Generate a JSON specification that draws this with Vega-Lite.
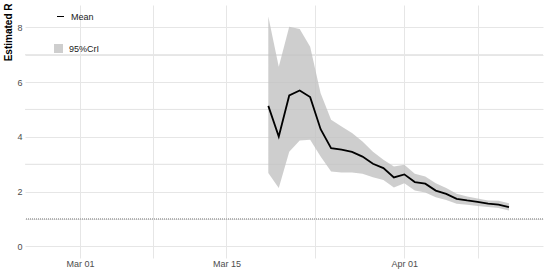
{
  "$schema": "https://vega.github.io/schema/vega-lite/v6.json",
  "width": 518,
  "height": 253,
  "autosize": {"type": "none"},
  "padding": {"left": 25, "top": 5, "right": 7, "bottom": 17},
  "background": "white",
  "config": {
    "view": {"stroke": null},
    "font": "Liberation Sans",
    "axis": {
      "domain": false,
      "ticks": false,
      "labelColor": "#4d4d4d",
      "labelFontSize": 9,
      "labelFont": "Liberation Sans",
      "gridColor": "#e6e6e6",
      "gridWidth": 1
    },
    "legend": {"padding": 0, "labelFont": "Liberation Sans"}
  },
  "data": {
    "values": [
      {"date": "2020-03-19", "mean": 5.13, "lower": 2.68, "upper": 8.39},
      {"date": "2020-03-20", "mean": 4.01, "lower": 2.13, "upper": 6.56},
      {"date": "2020-03-21", "mean": 5.51, "lower": 3.46, "upper": 8.02},
      {"date": "2020-03-22", "mean": 5.69, "lower": 3.87, "upper": 7.93},
      {"date": "2020-03-23", "mean": 5.45, "lower": 3.89, "upper": 7.29},
      {"date": "2020-03-24", "mean": 4.28, "lower": 3.28, "upper": 5.59},
      {"date": "2020-03-25", "mean": 3.59, "lower": 2.74, "upper": 4.62},
      {"date": "2020-03-26", "mean": 3.53, "lower": 2.70, "upper": 4.38},
      {"date": "2020-03-27", "mean": 3.45, "lower": 2.70, "upper": 4.14},
      {"date": "2020-03-28", "mean": 3.28, "lower": 2.65, "upper": 3.83},
      {"date": "2020-03-29", "mean": 3.02, "lower": 2.53, "upper": 3.46},
      {"date": "2020-03-30", "mean": 2.86, "lower": 2.43, "upper": 3.16},
      {"date": "2020-03-31", "mean": 2.52, "lower": 2.15, "upper": 2.92},
      {"date": "2020-04-01", "mean": 2.63, "lower": 2.31, "upper": 2.98},
      {"date": "2020-04-02", "mean": 2.35, "lower": 2.04, "upper": 2.65},
      {"date": "2020-04-03", "mean": 2.29, "lower": 1.97, "upper": 2.55},
      {"date": "2020-04-04", "mean": 2.04, "lower": 1.80, "upper": 2.31},
      {"date": "2020-04-05", "mean": 1.92, "lower": 1.70, "upper": 2.13},
      {"date": "2020-04-06", "mean": 1.74, "lower": 1.56, "upper": 1.92},
      {"date": "2020-04-07", "mean": 1.68, "lower": 1.52, "upper": 1.82},
      {"date": "2020-04-08", "mean": 1.63, "lower": 1.48, "upper": 1.75},
      {"date": "2020-04-09", "mean": 1.56, "lower": 1.44, "upper": 1.68},
      {"date": "2020-04-10", "mean": 1.53, "lower": 1.40, "upper": 1.67},
      {"date": "2020-04-11", "mean": 1.44, "lower": 1.31, "upper": 1.58}
    ]
  },
  "encoding": {
    "x": {
      "field": "date",
      "type": "temporal",
      "scale": {
        "type": "utc",
        "nice": false,
        "domain": [
          {"year": 2020, "month": 2, "date": 24, "hours": 18, "utc": true},
          {"year": 2020, "month": 4, "date": 14, "hours": 6, "utc": true}
        ]
      },
      "axis": {
        "title": null,
        "format": "%b %d",
        "labelPadding": 1,
        "labelOverlap": false,
        "values": [
          {"year": 2020, "month": 3, "date": 1, "utc": true},
          {"year": 2020, "month": 3, "date": 8, "utc": true},
          {"year": 2020, "month": 3, "date": 15, "utc": true},
          {"year": 2020, "month": 3, "date": 23, "hours": 12, "utc": true},
          {"year": 2020, "month": 4, "date": 1, "utc": true},
          {"year": 2020, "month": 4, "date": 8, "utc": true}
        ],
        "labelExpr": "(utcdate(datum.value) == 1 || utcdate(datum.value) == 15) ? datum.label : ''"
      }
    }
  },
  "layer": [
    {
      "data": {"values": [{"level": 3}, {"level": 5}, {"level": 7}]},
      "mark": {"type": "rule", "color": "#e6e6e6", "strokeWidth": 1},
      "encoding": {
        "y": {"field": "level", "type": "quantitative", "title": "Estimated R"},
        "x": null
      }
    },
    {
      "mark": {"type": "area", "opacity": 0.8},
      "encoding": {
        "y": {
          "field": "lower",
          "type": "quantitative",
          "scale": {"domain": [-0.42, 8.81], "nice": false, "zero": false},
          "axis": {
            "title": "Estimated R",
            "titleFontWeight": "bold",
            "titleFontSize": 10,
            "titleColor": "black",
            "titleAngle": -90,
            "titleX": -17,
            "titleY": -2,
            "titleAlign": "right",
            "titleBaseline": "middle",
            "labelPadding": 3,
            "labelOverlap": false,
            "labelExpr": "datum.value % 2 === 0 ? datum.label : ''"
          }
        },
        "y2": {"field": "upper"},
        "fill": {
          "datum": "95%CrI",
          "scale": {"range": ["#c2c2c2"]},
          "legend": {
            "title": null,
            "orient": "none",
            "legendX": 29,
            "legendY": 39,
            "symbolType": "square",
            "symbolSize": 81,
            "symbolOpacity": 0.8,
            "symbolStrokeWidth": 0,
            "labelFontSize": 9,
            "labelColor": "#1a1a1a",
            "labelOffset": 6
          }
        }
      }
    },
    {
      "mark": {"type": "rule", "color": "#b3b3b3", "strokeWidth": 0.8, "strokeDash": [1, 1]},
      "encoding": {
        "y": {"datum": 1, "type": "quantitative"},
        "x": null
      }
    },
    {
      "mark": {"type": "line", "color": "black", "strokeWidth": 1.8},
      "encoding": {
        "y": {"field": "mean", "type": "quantitative", "title": "Estimated R"},
        "stroke": {
          "datum": "Mean",
          "scale": {"range": ["black"]},
          "legend": {
            "title": null,
            "orient": "none",
            "legendX": 31,
            "legendY": 7,
            "symbolType": "stroke",
            "symbolSize": 49,
            "symbolStrokeWidth": 1,
            "symbolStrokeColor": "#444444",
            "labelFontSize": 9,
            "labelColor": "#1a1a1a",
            "labelOffset": 6
          }
        }
      }
    }
  ]
}
